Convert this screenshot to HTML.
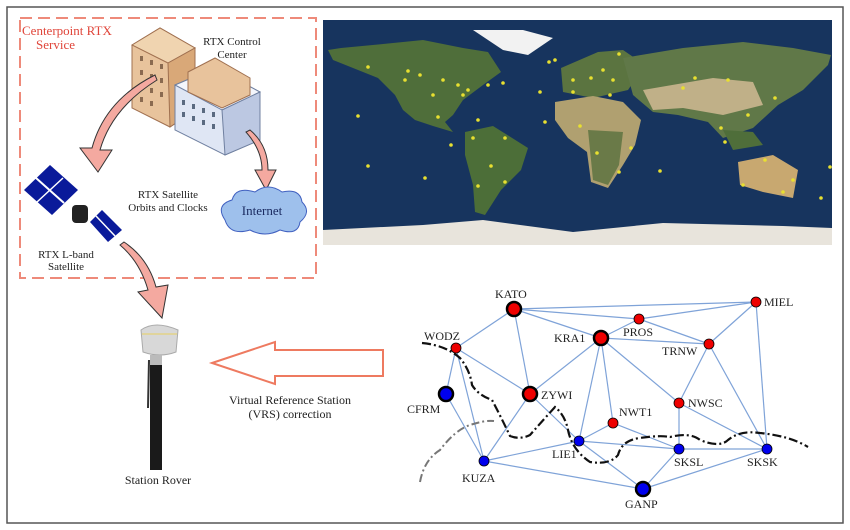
<!DOCTYPE html>
<html><head><meta charset="utf-8"><style>
html,body{margin:0;padding:0;background:#fff;}
svg{display:block;}
text{font-family:"Liberation Serif",serif;}
</style></head><body>
<svg width="850" height="530" viewBox="0 0 850 530" xmlns="http://www.w3.org/2000/svg">
<rect x="7" y="7" width="836" height="516" fill="#fff" stroke="#555" stroke-width="1.5"/>
<rect x="20" y="18" width="296" height="260" fill="none" stroke="#ee8a7a" stroke-width="2" stroke-dasharray="12,6"/>
<text x="22" y="35" font-size="13" fill="#e0453a">Centerpoint RTX</text>
<text x="36" y="49" font-size="13" fill="#e0453a">Service</text>
<text x="232" y="45" font-size="11" text-anchor="middle" fill="#222">RTX Control</text>
<text x="232" y="58" font-size="11" text-anchor="middle" fill="#222">Center</text>
<!-- buildings -->
<polygon points="132,45 160,28 195,48 195,110 170,127 132,108" fill="#e8c39c" stroke="#a07050"/>
<polygon points="132,45 160,28 195,48 168,63" fill="#f0d4b0" stroke="#a07050"/>
<polygon points="168,63 195,48 195,110 170,127" fill="#d9a878" stroke="#a07050"/>
<g fill="#8a6a50"><rect x="140" y="56" width="3" height="5"/><rect x="150" y="60" width="3" height="5"/><rect x="160" y="64" width="3" height="5"/><rect x="140" y="70" width="3" height="5"/><rect x="150" y="74" width="3" height="5"/><rect x="160" y="78" width="3" height="5"/><rect x="140" y="84" width="3" height="5"/><rect x="150" y="88" width="3" height="5"/><rect x="160" y="92" width="3" height="5"/><rect x="140" y="97" width="3" height="5"/><rect x="150" y="101" width="3" height="5"/></g>
<polygon points="175,85 215,68 260,92 260,140 225,155 175,130" fill="#dfe6f4" stroke="#7080a0"/>
<polygon points="175,85 215,68 260,92 222,110" fill="#f4f6fc" stroke="#7080a0"/>
<polygon points="222,110 260,92 260,140 225,155" fill="#bcc8e2" stroke="#7080a0"/>
<polygon points="188,72 215,58 250,78 250,95 222,108 188,92" fill="#e8c39c" stroke="#a07050"/>
<g fill="#5a6a80"><rect x="182" y="100" width="3" height="5"/><rect x="192" y="104" width="3" height="5"/><rect x="202" y="108" width="3" height="5"/><rect x="212" y="112" width="3" height="5"/><rect x="182" y="112" width="3" height="5"/><rect x="192" y="116" width="3" height="5"/><rect x="202" y="120" width="3" height="5"/><rect x="212" y="124" width="3" height="5"/></g>
<path d="M155,75 Q105,100 92,148 L80,148 L98,172 L112,150 L100,150 Q112,108 157,80 Z" fill="#f4a9a0" stroke="#333" stroke-width="1"/>
<path d="M246,132 Q262,150 262,170 L255,170 L266,190 L276,170 L268,170 Q268,145 250,130 Z" fill="#f4a9a0" stroke="#333" stroke-width="1"/>
<path d="M120,245 Q140,262 148,290 L138,292 L162,318 L168,285 L156,287 Q148,258 124,242 Z" fill="#f4a9a0" stroke="#333" stroke-width="1"/>
<path d="M225,220 Q215,205 232,200 Q236,186 255,192 Q268,182 282,192 Q300,188 302,202 Q312,212 300,222 Q298,236 280,230 Q265,238 250,230 Q230,236 225,220 Z" fill="#9ec0ec" stroke="#4060c0"/>
<text x="262" y="215" font-size="13" text-anchor="middle" fill="#1a2a60">Internet</text>
<text x="168" y="198" font-size="11" text-anchor="middle" fill="#222">RTX Satellite</text>
<text x="168" y="211" font-size="11" text-anchor="middle" fill="#222">Orbits and Clocks</text>
<!-- satellite -->
<g fill="#0a1a9a"><polygon points="24,190 50,165 78,190 52,215"/><polygon points="90,222 102,210 122,230 108,242"/></g>
<line x1="36" y1="178" x2="64" y2="203" stroke="#fff" stroke-width="2"/><line x1="37" y1="202" x2="63" y2="178" stroke="#fff" stroke-width="1.5"/>
<line x1="96" y1="216" x2="115" y2="236" stroke="#fff" stroke-width="1.5"/>
<rect x="72" y="205" width="16" height="18" rx="4" fill="#222"/>
<text x="66" y="258" font-size="11" text-anchor="middle" fill="#222">RTX L-band</text>
<text x="66" y="270" font-size="11" text-anchor="middle" fill="#222">Satellite</text>
<!-- map -->
<g transform="translate(323,20)">
<rect width="509" height="225" fill="#17345e"/>
<polygon points="5,30 18,28 60,24 100,20 140,28 165,32 178,52 160,65 140,80 130,95 122,102 130,112 110,106 92,100 80,90 72,75 55,58 30,48 10,40" fill="#4f6e3a"/>
<polygon points="150,10 200,10 230,18 205,35 180,30" fill="#f2f2f2"/>
<polygon points="142,112 170,106 205,128 198,150 178,170 162,195 152,192 150,165 142,135" fill="#4c6e38"/>
<polygon points="238,48 275,32 300,30 322,45 305,70 270,78 240,72" fill="#5b7440"/>
<polygon points="232,82 270,76 300,82 318,100 312,125 300,145 285,168 268,162 264,132 245,118 232,100" fill="#b0a070"/>
<polygon points="265,110 300,112 296,145 285,165 270,160" fill="#6a7a48"/>
<polygon points="300,38 360,28 420,22 470,28 508,35 505,45 480,70 455,85 430,108 400,118 385,102 355,95 330,92 310,75" fill="#607848"/>
<polygon points="320,70 390,58 430,62 440,85 400,95 360,88 330,90" fill="#c0b088"/>
<polygon points="400,110 430,112 440,125 410,130" fill="#4f6e3a"/>
<polygon points="415,142 450,135 475,150 470,178 440,172 417,165" fill="#c8a870"/>
<polygon points="0,210 100,205 160,200 250,212 340,203 460,206 509,208 509,225 0,225" fill="#e8e4dc"/>
<g fill="#e8e030">
<circle cx="45" cy="47" r="1.8"/><circle cx="85" cy="51" r="1.8"/><circle cx="97" cy="55" r="1.8"/><circle cx="82" cy="60" r="1.8"/><circle cx="120" cy="60" r="1.8"/><circle cx="135" cy="65" r="1.8"/><circle cx="145" cy="70" r="1.8"/><circle cx="165" cy="65" r="1.8"/><circle cx="180" cy="63" r="1.8"/><circle cx="110" cy="75" r="1.8"/><circle cx="140" cy="75" r="1.8"/><circle cx="35" cy="96" r="1.8"/><circle cx="115" cy="97" r="1.8"/><circle cx="155" cy="100" r="1.8"/><circle cx="217" cy="72" r="1.8"/><circle cx="222" cy="102" r="1.8"/><circle cx="128" cy="125" r="1.8"/><circle cx="150" cy="118" r="1.8"/><circle cx="182" cy="118" r="1.8"/><circle cx="45" cy="146" r="1.8"/><circle cx="102" cy="158" r="1.8"/><circle cx="168" cy="146" r="1.8"/><circle cx="182" cy="162" r="1.8"/><circle cx="155" cy="166" r="1.8"/><circle cx="250" cy="60" r="1.8"/><circle cx="268" cy="58" r="1.8"/><circle cx="280" cy="50" r="1.8"/><circle cx="296" cy="34" r="1.8"/><circle cx="290" cy="60" r="1.8"/><circle cx="250" cy="72" r="1.8"/><circle cx="287" cy="75" r="1.8"/><circle cx="257" cy="106" r="1.8"/><circle cx="274" cy="133" r="1.8"/><circle cx="308" cy="128" r="1.8"/><circle cx="296" cy="152" r="1.8"/><circle cx="337" cy="151" r="1.8"/><circle cx="360" cy="68" r="1.8"/><circle cx="372" cy="58" r="1.8"/><circle cx="405" cy="60" r="1.8"/><circle cx="425" cy="95" r="1.8"/><circle cx="452" cy="78" r="1.8"/><circle cx="398" cy="108" r="1.8"/><circle cx="402" cy="122" r="1.8"/><circle cx="442" cy="140" r="1.8"/><circle cx="420" cy="165" r="1.8"/><circle cx="470" cy="160" r="1.8"/><circle cx="460" cy="172" r="1.8"/><circle cx="498" cy="178" r="1.8"/><circle cx="507" cy="147" r="1.8"/><circle cx="226" cy="42" r="1.8"/><circle cx="232" cy="40" r="1.8"/>
</g>
</g>
<!-- rover -->
<rect x="150" y="362" width="12" height="108" fill="#1a1a1a"/>
<line x1="149" y1="360" x2="148" y2="408" stroke="#333" stroke-width="2"/>
<path d="M141,330 Q155,320 178,330 L176,352 Q160,358 143,352 Z" fill="#d8d8d8" stroke="#aaa"/>
<line x1="142" y1="334" x2="177" y2="334" stroke="#e8d060" stroke-width="1"/>
<rect x="150" y="355" width="12" height="10" fill="#bbb"/>
<text x="158" y="484" font-size="12" text-anchor="middle" fill="#222">Station Rover</text>
<polygon points="212,363 275,342 275,350 383,350 383,376 275,376 275,384" fill="#fff" stroke="#ee7a60" stroke-width="2"/>
<text x="290" y="404" font-size="12" text-anchor="middle" fill="#222">Virtual Reference Station</text>
<text x="290" y="418" font-size="12" text-anchor="middle" fill="#222">(VRS) correction</text>
<g stroke="#7fa3d8" stroke-width="1.2">
<line x1="514" y1="309" x2="756" y2="302"/><line x1="514" y1="309" x2="639" y2="319"/><line x1="514" y1="309" x2="601" y2="338"/><line x1="514" y1="309" x2="456" y2="348"/><line x1="514" y1="309" x2="530" y2="394"/>
<line x1="639" y1="319" x2="756" y2="302"/><line x1="639" y1="319" x2="601" y2="338"/><line x1="639" y1="319" x2="709" y2="344"/><line x1="601" y1="338" x2="709" y2="344"/><line x1="756" y1="302" x2="709" y2="344"/><line x1="756" y1="302" x2="767" y2="449"/>
<line x1="709" y1="344" x2="679" y2="403"/><line x1="709" y1="344" x2="767" y2="449"/><line x1="601" y1="338" x2="530" y2="394"/><line x1="601" y1="338" x2="579" y2="441"/><line x1="601" y1="338" x2="613" y2="423"/><line x1="601" y1="338" x2="679" y2="403"/>
<line x1="456" y1="348" x2="530" y2="394"/><line x1="456" y1="348" x2="446" y2="394"/><line x1="456" y1="348" x2="484" y2="461"/><line x1="446" y1="394" x2="484" y2="461"/><line x1="530" y1="394" x2="484" y2="461"/><line x1="530" y1="394" x2="579" y2="441"/>
<line x1="579" y1="441" x2="613" y2="423"/><line x1="613" y1="423" x2="679" y2="449"/><line x1="579" y1="441" x2="679" y2="449"/><line x1="579" y1="441" x2="643" y2="489"/><line x1="484" y1="461" x2="579" y2="441"/><line x1="484" y1="461" x2="643" y2="489"/>
<line x1="679" y1="403" x2="679" y2="449"/><line x1="679" y1="403" x2="767" y2="449"/><line x1="679" y1="449" x2="767" y2="449"/><line x1="679" y1="449" x2="643" y2="489"/><line x1="767" y1="449" x2="643" y2="489"/>
</g>
<path d="M422,343 Q445,345 460,358 Q470,370 472,385 Q478,395 492,400 Q500,415 510,436 Q520,440 530,435 Q545,418 555,407 Q565,415 568,430 Q572,450 590,462 Q610,465 618,455 Q622,440 640,438 Q660,435 670,437 Q690,432 700,440 Q720,448 728,440 Q740,430 760,433 Q790,436 808,447" fill="none" stroke="#111" stroke-width="2.2" stroke-dasharray="9,3,2,3"/>
<path d="M420,482 Q424,460 440,450 Q455,430 470,425 Q485,420 494,421" fill="none" stroke="#777" stroke-width="2" stroke-dasharray="8,3,2,3"/>
<g stroke="#000">
<circle cx="514" cy="309" r="7" fill="#e00" stroke-width="2.5"/><circle cx="601" cy="338" r="7" fill="#e00" stroke-width="2.5"/><circle cx="530" cy="394" r="7" fill="#e00" stroke-width="2.5"/>
<circle cx="446" cy="394" r="7" fill="#00e" stroke-width="2.5"/><circle cx="643" cy="489" r="7" fill="#00e" stroke-width="2.5"/>
<circle cx="756" cy="302" r="5" fill="#e00" stroke-width="0.8"/><circle cx="639" cy="319" r="5" fill="#e00" stroke-width="0.8"/><circle cx="709" cy="344" r="5" fill="#e00" stroke-width="0.8"/><circle cx="456" cy="348" r="5" fill="#e00" stroke-width="0.8"/><circle cx="679" cy="403" r="5" fill="#e00" stroke-width="0.8"/><circle cx="613" cy="423" r="5" fill="#e00" stroke-width="0.8"/>
<circle cx="579" cy="441" r="5" fill="#00e" stroke-width="0.8"/><circle cx="679" cy="449" r="5" fill="#00e" stroke-width="0.8"/><circle cx="767" cy="449" r="5" fill="#00e" stroke-width="0.8"/><circle cx="484" cy="461" r="5" fill="#00e" stroke-width="0.8"/>
</g>
<g font-size="12" fill="#222">
<text x="495" y="298">KATO</text><text x="764" y="306">MIEL</text><text x="623" y="336">PROS</text><text x="554" y="342">KRA1</text><text x="662" y="355">TRNW</text><text x="424" y="340">WODZ</text><text x="407" y="413">CFRM</text><text x="541" y="399">ZYWI</text><text x="688" y="407">NWSC</text><text x="619" y="416">NWT1</text><text x="552" y="458">LIE1</text><text x="674" y="466">SKSL</text><text x="747" y="466">SKSK</text><text x="462" y="482">KUZA</text><text x="625" y="508">GANP</text>
</g>
</svg>
</body></html>
